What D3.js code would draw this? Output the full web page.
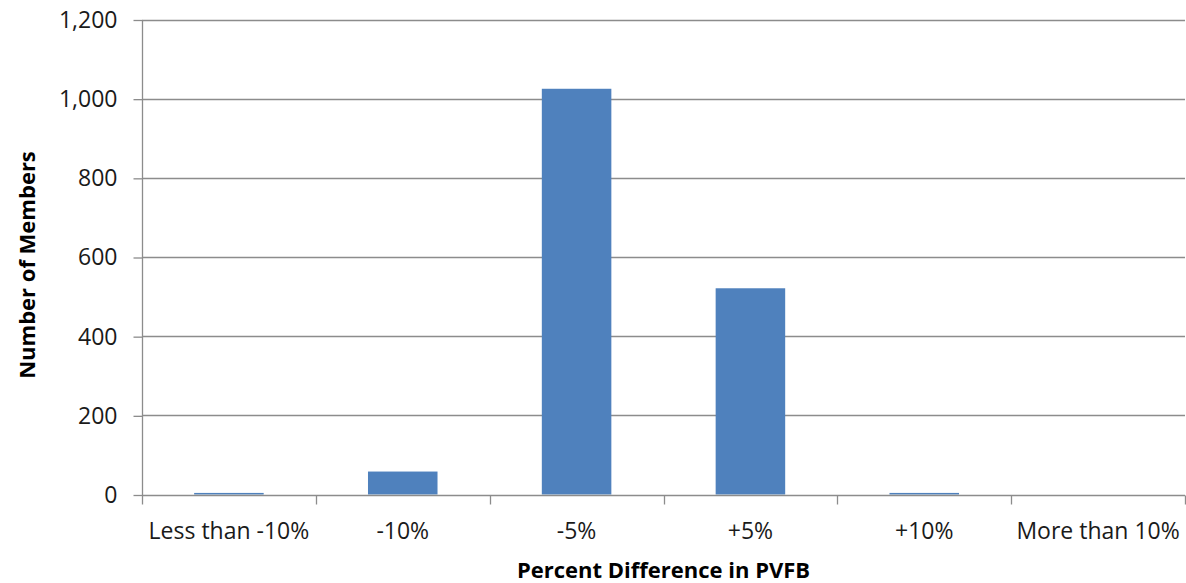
<!DOCTYPE html>
<html>
<head>
<meta charset="utf-8">
<script src="https://cdn.jsdelivr.net/npm/d3@7"></script>
<style>
  html, body { margin: 0; padding: 0; background: #fff; }
  svg { display: block; }
</style>
</head>
<body>
<svg id="chart" width="1186" height="583"></svg>
<script>
const categories = ["Less than -10%", "-10%", "-5%", "+5%", "+10%", "More than 10%"];
const members = [4, 58, 1025, 521, 4, 0];
const yTicks = [0, 200, 400, 600, 800, 1000, 1200];
const xTitle = "Percent Difference in PVFB";
const yTitle = "Number of Members";

(function () {
const svg = d3.select("#chart");
const pLeft = 142, pRight = 1185, pTop = 19.5, pBottom = 494.5;
const font = "'Open Sans', sans-serif";

const x = d3.scaleBand().domain(categories).range([pLeft, pRight]).padding(0);
const y = d3.scaleLinear().domain([0, 1200]).range([pBottom, pTop]);

// gridlines
svg.append("g").selectAll("line").data(yTicks.filter(d => d > 0)).join("line")
  .attr("x1", pLeft).attr("x2", pRight)
  .attr("y1", d => Math.round(y(d)) + 0.5).attr("y2", d => Math.round(y(d)) + 0.5)
  .attr("stroke", "#8c8c8c").attr("stroke-width", 1.3);

// bars
const bw = x.bandwidth() * 0.4;
svg.append("g").selectAll("rect").data(categories).join("rect")
  .attr("x", (d) => x(d) + (x.bandwidth() - bw) / 2)
  .attr("width", bw)
  .attr("y", (d, i) => y(members[i]))
  .attr("height", (d, i) => pBottom - y(members[i]))
  .attr("fill", "#4F81BD");

// y axis
const yAxis = d3.axisLeft(y).tickValues(yTicks).tickSize(9).tickPadding(16)
  .tickFormat(d3.format(","));
const gy = svg.append("g").attr("transform", `translate(${pLeft + 0.5},0.5)`).call(yAxis);
gy.select(".domain").attr("stroke", "#8c8c8c").attr("stroke-width", 1.3).attr("d", `M0,${pTop}V${pBottom}`);
gy.selectAll(".tick line").attr("stroke", "#8c8c8c").attr("stroke-width", 1.3);
gy.selectAll(".tick text").attr("font-family", font).attr("font-size", 23).attr("fill", "#1a1a1a");

// x axis
const gx = svg.append("g").attr("transform", `translate(0,${Math.round(pBottom) + 0.5})`);
gx.append("line").attr("x1", pLeft).attr("x2", pRight).attr("stroke", "#8c8c8c").attr("stroke-width", 1.3);
const bounds = categories.map(c => x(c)).concat([pRight]);
gx.selectAll("line.tk").data(bounds).join("line").attr("class", "tk")
  .attr("x1", d => Math.round(d) + 0.5).attr("x2", d => Math.round(d) + 0.5)
  .attr("y1", 0).attr("y2", 9).attr("stroke", "#8c8c8c").attr("stroke-width", 1.3);
gx.selectAll("text").data(categories).join("text")
  .attr("x", d => x(d) + x.bandwidth() / 2).attr("y", 43)
  .attr("text-anchor", "middle").attr("font-family", font).attr("font-size", 23)
  .attr("fill", "#1a1a1a").text(d => d);

// axis titles
svg.append("text").attr("x", (pLeft + pRight) / 2).attr("y", 578)
  .attr("text-anchor", "middle").attr("font-family", font).attr("font-weight", "bold")
  .attr("font-size", 22).attr("fill", "#000").text(xTitle);
svg.append("text").attr("transform", "translate(35,265) rotate(-90)")
  .attr("text-anchor", "middle").attr("font-family", font).attr("font-weight", "bold")
  .attr("font-size", 22).attr("fill", "#000").text(yTitle);
})();
</script>
</body>
</html>
